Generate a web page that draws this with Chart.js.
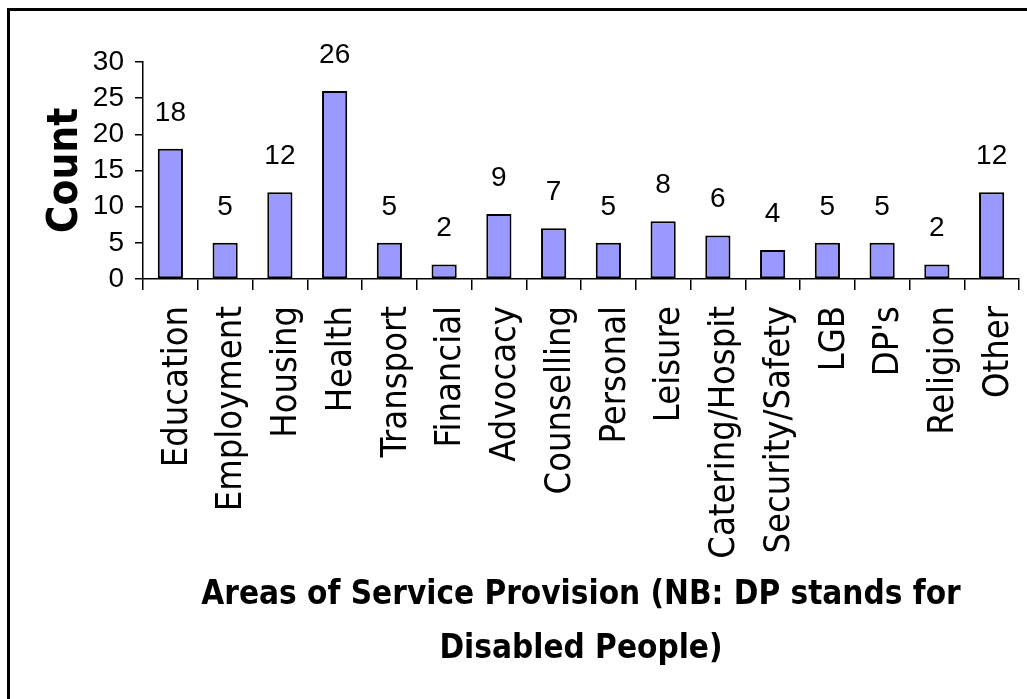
<!DOCTYPE html>
<html>
<head>
<meta charset="utf-8">
<script src="https://cdn.jsdelivr.net/npm/chart.js@4.4.1/dist/chart.umd.min.js"></script>
<style>
  html, body { margin: 0; padding: 0; background: #fff; overflow: hidden; }
  #wrap { position: relative; width: 1027px; height: 699px; }
  #frame { position: absolute; left: 7px; top: 8px; width: 1100px; height: 800px;
           border-top: 3px solid #000; border-left: 3px solid #000; pointer-events: none; }
  canvas { position: absolute; left: 0; top: 0; }
</style>
</head>
<body>
<div id="wrap">
  <canvas id="chart" width="1027" height="699"></canvas>
  <div id="frame"></div>
</div>
<script>
// Categories and counts
const areas = ["Education", "Employment", "Housing", "Health", "Transport", "Financial",
  "Advocacy", "Counselling", "Personal", "Leisure", "Catering/Hospit", "Security/Safety",
  "LGB", "DP's", "Religion", "Other"];
const counts = [18, 5, 12, 26, 5, 2, 9, 7, 5, 8, 6, 4, 5, 5, 2, 12];
const yTicks = [0, 5, 10, 15, 20, 25, 30];

const condensed = "'DejaVu Sans Condensed', 'DejaVu Sans', sans-serif";
const arial = "'Liberation Sans', Arial, sans-serif";

// Draws the count above each bar
const valueLabels = {
  id: 'valueLabels',
  afterDatasetsDraw(chart) {
    let ctx = chart.ctx;
    let meta = chart.getDatasetMeta(0);
    ctx.save();
    ctx.font = "28px " + arial;
    ctx.fillStyle = '#000';
    ctx.textAlign = 'center';
    ctx.textBaseline = 'middle';
    meta.data.forEach((bar, i) => {
      ctx.fillText(String(counts[i]), bar.x, bar.y - 36);
    });
    ctx.restore();
  }
};

let ctx = document.getElementById('chart').getContext('2d');

new Chart(ctx, {
  type: 'bar',
  data: {
    labels: areas,
    datasets: [{
      data: counts,
      backgroundColor: '#9999FF',
      borderColor: '#000',
      borderWidth: 2,
      borderSkipped: false,
      barPercentage: 0.46,
      categoryPercentage: 1.0
    }]
  },
  options: {
    responsive: false,
    animation: false,
    layout: { padding: { top: 62, right: 8, left: 0, bottom: 0 } },
    plugins: {
      legend: { display: false },
      tooltip: { enabled: false }
    },
    scales: {
      x: {
        afterFit: (s) => { s.height = 420; s.paddingLeft = 0; s.paddingRight = 0; },
        grid: { display: true, drawOnChartArea: false, offset: true, tickLength: 11, color: '#000', lineWidth: 1.5 },
        border: { display: true, color: '#000', width: 1.5 },
        ticks: {
          autoSkip: false,
          minRotation: 90,
          maxRotation: 90,
          padding: 16,
          labelOffset: 7,
          color: '#000',
          font: { family: condensed, size: 36 }
        },
        title: {
          display: true,
          text: ["Areas of Service Provision (NB: DP stands for", "Disabled People)"],
          color: '#000',
          padding: { top: 0, bottom: 22 },
          font: { family: condensed, size: 33, weight: 'bold', lineHeight: 1.65 }
        }
      },
      y: {
        min: 0,
        max: 30,
        afterFit: (s) => { s.width = 143; },
        afterBuildTicks: (s) => { s.ticks = yTicks.map(v => ({ value: v })); },
        grid: { display: true, drawOnChartArea: false, tickLength: 8, color: '#000', lineWidth: 1.5 },
        border: { display: true, color: '#000', width: 1.5 },
        ticks: {
          autoSkip: false,
          padding: 11,
          color: '#000',
          font: { family: arial, size: 28 }
        },
        title: {
          display: true,
          text: 'Count',
          color: '#000',
          padding: { top: 41, bottom: 0 },
          font: { family: condensed, size: 42, weight: 'bold', lineHeight: 1.2 }
        }
      }
    }
  },
  plugins: [valueLabels]
});
</script>
</body>
</html>
